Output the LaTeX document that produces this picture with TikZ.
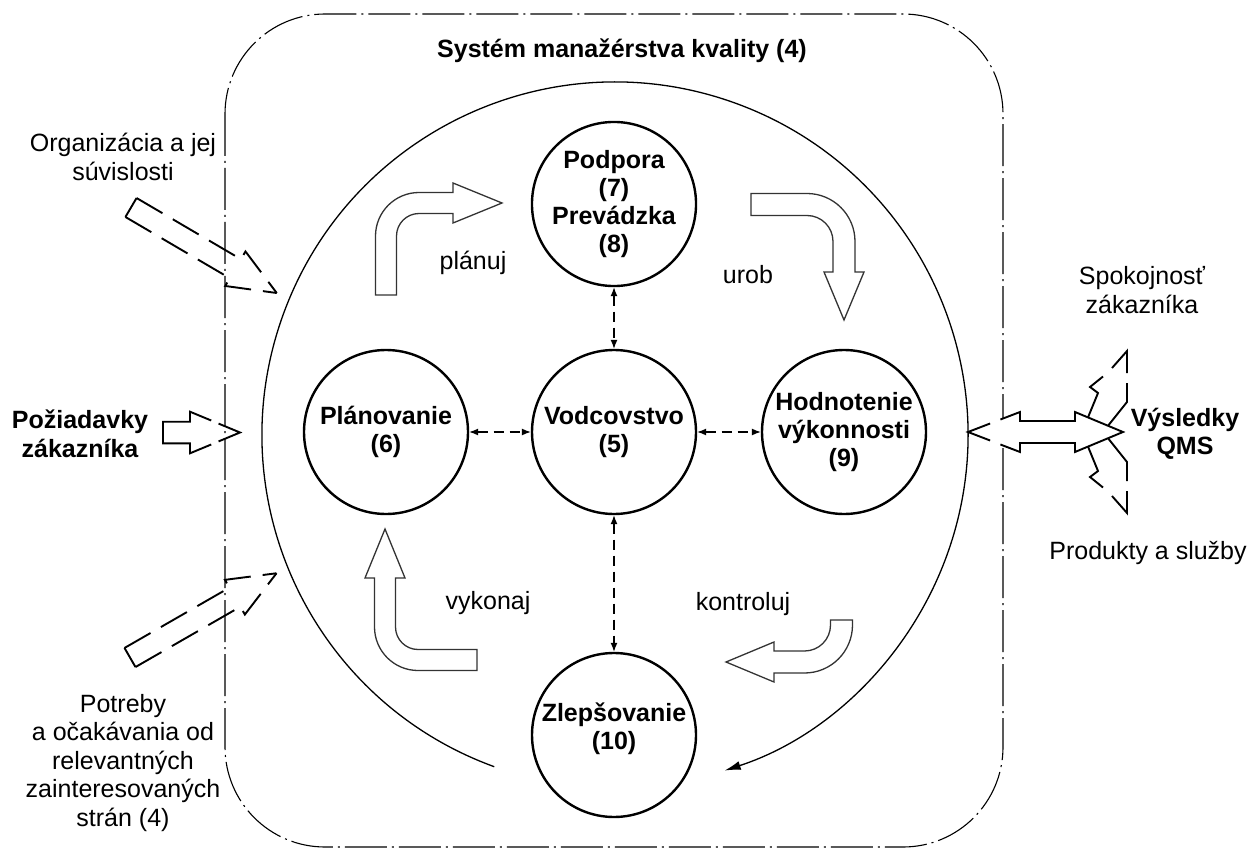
\documentclass[tikz,border=0pt]{standalone}
\usepackage{fontspec}
\setmainfont{Liberation Sans}
\usetikzlibrary{arrows.meta,calc}
\begin{document}
\begin{tikzpicture}[x=1pt,y=-1pt,
  circ/.style={circle, draw, line width=2.4pt, minimum size=164pt, inner sep=0pt, align=center, font=\fontsize{25}{28.3}\selectfont\bfseries},
  lbl/.style={inner sep=0pt, align=center, font=\fontsize{25}{28.5}\selectfont},
  blbl/.style={inner sep=0pt, align=center, font=\fontsize{25}{28.5}\selectfont\bfseries},
  link/.style={line width=1.2pt, dash pattern=on 10pt off 6pt, {Latex[length=9pt,width=7pt]}-{Latex[length=9pt,width=7pt]}},
  pdca/.style={draw=black!80, line width=1.3pt, fill=white, line join=miter},
  ext/.style={line width=1.9pt, line join=miter},
  extdash/.style={ext, dash pattern=on 30pt off 12pt},
  boundary/.style={line width=1.1pt, dash pattern=on 42pt off 5pt on 2pt off 5pt, rounded corners=100pt},
  cycarrow/.style={line width=1.3pt, -{Latex[length=16pt,width=9pt]}}]
\useasboundingbox (0,0) rectangle (1250,850);

% system boundary
\draw[boundary] (225,14) rectangle (1003,847);
\node[blbl] (title) at (622,51) {Systém manažérstva kvality (4)};

% big PDCA cycle
\coordinate (cyc) at (615,435);
\draw[cycarrow] ($(cyc)+(110:353)$) arc[start angle=250, end angle=-71.9, radius=353pt];

% circles
\node[circ] (podpora) at (614,204) {Podpora\\(7)\\Prevádzka\\(8)};
\node[circ] (plan) at (386,432) {Plánovanie\\(6)};
\node[circ] (vodc) at (614,432) {Vodcovstvo\\(5)};
\node[circ] (hodn) at (844,432) {Hodnotenie\\výkonnosti\\(9)};
\node[circ] (zlep) at (614,735) {};
\node[blbl, font=\fontsize{25}{28.3}\selectfont\bfseries] (zleptext) at (614,729) {Zlepšovanie\\(10)};

\draw[link] (podpora.south) -- (vodc.north);
\draw[link] (plan.east) -- (vodc.west);
\draw[link] (vodc.east) -- (hodn.west);
\draw[link] (vodc.south) -- (zlep.north);

% PDCA bent arrows
% planuj
\draw[pdca] (375.5,295) -- (375.5,236) .. controls (375.5,212) and (395,192.5) .. (419,192.5)
  -- (453,192.5) -- (453,183) -- (502,203) -- (453,223) -- (453,213.5) -- (419,213.5)
  .. controls (406.6,213.5) and (396.5,223.6) .. (396.5,236) -- (396.5,295) -- cycle;
% urob
\draw[pdca] (751,193.5) -- (807,193.5) .. controls (833.5,193.5) and (855,215) .. (855,241.5)
  -- (855,272) -- (864,272) -- (844,320) -- (824,272) -- (833,272) -- (833,241.5)
  .. controls (833,227.1) and (821.4,215.5) .. (807,215.5) -- (751,215.5) -- cycle;
% kontroluj
\draw[pdca] (830.5,620) -- (852.5,620) -- (852.5,625) .. controls (852.5,651.5) and (831,673) .. (804.5,673)
  -- (774,673) -- (774,682) -- (726,662) -- (774,642) -- (774,651) -- (804.5,651)
  .. controls (818.9,651) and (830.5,639.4) .. (830.5,625) -- cycle;
% vykonaj
\draw[pdca] (477,670.5) -- (418,670.5) .. controls (394,670.5) and (374.5,651) .. (374.5,627)
  -- (374.5,578) -- (365,578) -- (385,529) -- (405,578) -- (395.5,578) -- (395.5,627)
  .. controls (395.5,639.4) and (405.6,649.5) .. (418,649.5) -- (477,649.5) -- cycle;

\node[lbl] (planuj) at (473,263) {plánuj};
\node[lbl] (urob) at (748,275) {urob};
\node[lbl] (vykonaj) at (488,603) {vykonaj};
\node[lbl] (kontroluj) at (743,604) {kontroluj};

% left inputs
\node[lbl] (org) at (123,157) {Organizácia a jej\\súvislosti};
\begin{scope}[shift={(131,207.5)}, rotate=-30.4]
  \draw[ext] (0,-11) -- (0,11);
  \draw[extdash] (0,-11) -- (121,-11) -- (121,-20) -- (169,0);
  \draw[extdash] (0,11) -- (121,11) -- (121,20) -- (169,0);
\end{scope}

\node[blbl] (poz) at (80,434) {Požiadavky\\zákazníka};
\draw[ext] (211.2,420.5) -- (190,411.7) -- (190,421.7) -- (163,421.7) -- (163,443.3) -- (190,443.3) -- (190,453.3) -- (211.2,444.5);
\draw[ext] (218.6,423.6) -- (240,432.5) -- (218.6,441.4);

\node[lbl] (pot) at (123,763) {Potreby\\a očakávania od\\relevantných\\zainteresovaných\\strán (4)};
\begin{scope}[shift={(130,657.5)}, rotate=29.9]
  \draw[ext] (0,-11) -- (0,11);
  \draw[extdash] (0,-11) -- (121,-11) -- (121,-20) -- (169,0);
  \draw[extdash] (0,11) -- (121,11) -- (121,20) -- (169,0);
\end{scope}

% right outputs
\fill[white] (968,432) -- (1020,412) -- (1020,421) -- (1075,421) -- (1075,412) -- (1123,432) -- (1075,452) -- (1075,443) -- (1020,443) -- (1020,452) -- cycle;
\draw[ext] (1000.4,419.5) -- (1020,412) -- (1020,421) -- (1075,421) -- (1075,412) -- (1123,432) -- (1075,452) -- (1075,443) -- (1020,443) -- (1020,452) -- (1000.4,444.5);
\draw[ext] (990.1,423.5) -- (968,432) -- (990.1,440.5);
% upper branch
\draw[ext] (1088,417.4) -- (1098,393) -- (1090,387) -- (1103,376.5);
\draw[ext] (1112,368) -- (1127,351) -- (1127,373);
\draw[ext] (1127,383) -- (1127,402) -- (1108,425.8);
% lower branch
\draw[ext] (1088,446.6) -- (1098,471) -- (1090,477) -- (1103,487.5);
\draw[ext] (1112,496) -- (1127,513) -- (1127,491);
\draw[ext] (1127,481) -- (1127,462) -- (1108,438.2);

\node[lbl] (spok) at (1142,290) {Spokojnosť\\zákazníka};
\node[blbl] (vys) at (1185,434) {Výsledky\\QMS};
\node[lbl] (prod) at (1148,553) {Produkty a služby};
\end{tikzpicture}
\end{document}
